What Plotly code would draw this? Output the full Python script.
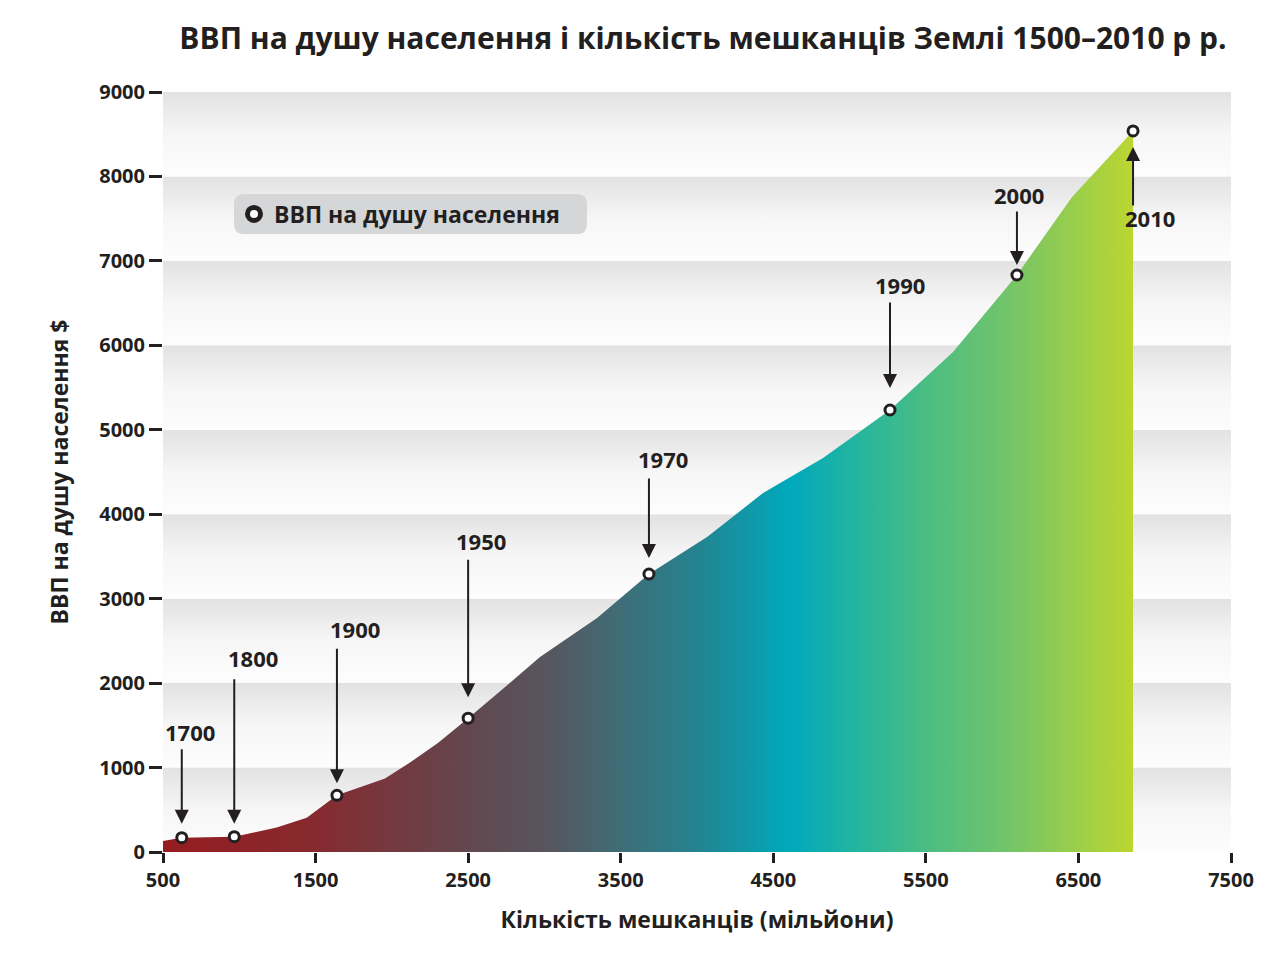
import plotly.graph_objects as go

# Кількість мешканців (млн) і ВВП на душу ($) по контуру площі, 1500-2010
population = [500, 623, 967, 1245, 1442, 1640, 1955, 2119, 2302, 2500, 2742,
              2971, 3345, 3685, 4066, 4433, 4826, 5265, 5678, 6097, 6458, 6858]
gdp = [130, 170, 182, 289, 407, 671, 869, 1060, 1290, 1585, 1954,
       2309, 2771, 3292, 3730, 4251, 4666, 5234, 5921, 6833, 7757, 8539]
years = [None, '1700', '1800', None, None, '1900', None, None, None, '1950', None,
         None, None, '1970', None, None, None, '1990', None, '2000', None, '2010']

x_ticks = [500, 1500, 2500, 3500, 4500, 5500, 6500, 7500]
y_ticks = [0, 1000, 2000, 3000, 4000, 5000, 6000, 7000, 8000, 9000]

title = 'ВВП на душу населення і кількість мешканців Землі 1500–2010 р р.'
x_title = 'Кількість мешканців (мільйони)'
y_title = 'ВВП на душу населення $'
legend_name = 'ВВП на душу населення'

ink = '#231f20'
font_family = 'Open Sans'
# горизонтальний градієнт площі
area_scale = [[0.0, '#961c20'], [0.157, '#862a2f'], [0.313, '#63474f'],
              [0.40, '#56565f'], [0.472, '#3f6d77'], [0.55, '#24838f'],
              [0.646, '#00a9bd'], [0.712, '#22b4a0'], [0.788, '#4bbd82'],
              [0.869, '#72c46a'], [1.0, '#bcd630']]
band_scale = [[0.0, '#fdfdfd'], [0.5, '#f6f6f6'], [1.0, '#e2e2e3']]

# зсуви підписів і стрілок (px): стрілка ay, відступ від точки, xshift/yshift підпису
label_style = {
    '1700': dict(ay=-90, standoff=14, dx=8, dy=106),
    '1800': dict(ay=-159, standoff=13, dx=19, dy=179),
    '1900': dict(ay=-148, standoff=12, dx=18, dy=166),
    '1950': dict(ay=-160, standoff=21, dx=13, dy=177),
    '1970': dict(ay=-97, standoff=16, dx=14, dy=115),
    '1990': dict(ay=-109, standoff=22, dx=10, dy=125),
    '2000': dict(ay=-65, standoff=10, dx=2, dy=80),
    '2010': dict(ay=76, standoff=16, dx=17, dy=-87),
}

fig = go.Figure()

# фонові смуги між лініями сітки
for lo, hi in zip(y_ticks[:-1], y_ticks[1:]):
    fig.add_trace(go.Scatter(
        x=[x_ticks[0], x_ticks[-1], x_ticks[-1], x_ticks[0], x_ticks[0]],
        y=[lo, lo, hi, hi, lo],
        mode='none', fill='toself',
        fillgradient=dict(type='vertical', colorscale=band_scale),
        hoverinfo='skip', showlegend=False))

fig.add_trace(go.Scatter(
    x=population, y=gdp, mode='none', fill='tozeroy',
    fillgradient=dict(type='horizontal', colorscale=area_scale),
    hoverinfo='skip', showlegend=False))

mx = [p for p, yr in zip(population, years) if yr]
my = [g for g, yr in zip(gdp, years) if yr]
marker_style = dict(color='white', size=10, line=dict(color=ink, width=3))
fig.add_trace(go.Scatter(
    x=mx, y=my, mode='markers', marker=marker_style,
    customdata=[yr for yr in years if yr],
    hovertemplate='%{customdata}: %{x} млн, %{y} $<extra></extra>',
    showlegend=False))

# тільки для легенди
fig.add_trace(go.Scatter(
    x=[None], y=[None], mode='markers', name=legend_name,
    marker=dict(color='white', size=13, line=dict(color=ink, width=5))))

label_font = dict(family=font_family, size=22, color=ink, weight='bold')
for p, g, yr in zip(population, gdp, years):
    if not yr:
        continue
    st = label_style[yr]
    fig.add_annotation(x=p, y=g, text='', showarrow=True, ax=0, ay=st['ay'],
                       arrowhead=2, arrowsize=1.4, arrowwidth=2, arrowcolor=ink,
                       standoff=st['standoff'])
    fig.add_annotation(x=p, y=g, text=yr, showarrow=False,
                       xshift=st['dx'], yshift=st['dy'], font=label_font)

# сторінка має відступ 8px, тому фігура трохи менша за вікно
W, H = 1269, 948
ml, mr, mt, mb = 155, 46, 84, 104
pw, ph = W - ml - mr, H - mt - mb


def px(x):
    return (x - ml) / pw


def py(y):
    return (H - mb - y) / ph


# сіра підкладка легенди із закругленими кутами
x0, x1, y0, y1, r = 226, 579, 186, 226, 10
path = (f'M{px(x0 + r)},{py(y0)} L{px(x1 - r)},{py(y0)} Q{px(x1)},{py(y0)} {px(x1)},{py(y0 + r)} '
        f'L{px(x1)},{py(y1 - r)} Q{px(x1)},{py(y1)} {px(x1 - r)},{py(y1)} '
        f'L{px(x0 + r)},{py(y1)} Q{px(x0)},{py(y1)} {px(x0)},{py(y1 - r)} '
        f'L{px(x0)},{py(y0 + r)} Q{px(x0)},{py(y0)} {px(x0 + r)},{py(y0)} Z')
fig.add_shape(type='path', path=path, xref='paper', yref='paper',
              fillcolor='#d5d6d8', line=dict(width=0), layer='above')

tick_font = dict(family=font_family, size=20, color=ink, weight='bold')
axis_title_font = dict(family=font_family, size=23, color=ink, weight='bold')

fig.update_layout(
    width=W, height=H,
    margin=dict(l=ml, r=mr, t=mt, b=mb),
    paper_bgcolor='white', plot_bgcolor='white',
    title=dict(text=title, x=695 / W, xanchor='center', y=1 - 30 / H, yanchor='middle',
               font=dict(family=font_family, size=30, color=ink, weight='bold')),
    showlegend=True,
    legend=dict(x=px(226), y=py(206), xanchor='left', yanchor='middle',
                bgcolor='rgba(0,0,0,0)', borderwidth=0,
                font=dict(family=font_family, size=23, color=ink, weight='bold'),
                itemsizing='trace'),
    xaxis=dict(range=[x_ticks[0], x_ticks[-1]], tickvals=x_ticks,
               showgrid=False, zeroline=False, showline=False,
               ticks='outside', ticklen=10, tickwidth=3, tickcolor=ink,
               tickfont=tick_font, automargin=False,
               title=dict(text=x_title, font=axis_title_font, standoff=19)),
    yaxis=dict(range=[y_ticks[0], y_ticks[-1]], tickvals=y_ticks,
               showgrid=False, zeroline=False, showline=False,
               ticks='outside', ticklen=13, tickwidth=3, tickcolor=ink,
               tickfont=tick_font, automargin=False,
               title=dict(text=y_title, font=axis_title_font, standoff=24)),
)

fig.write_html('out.html')
